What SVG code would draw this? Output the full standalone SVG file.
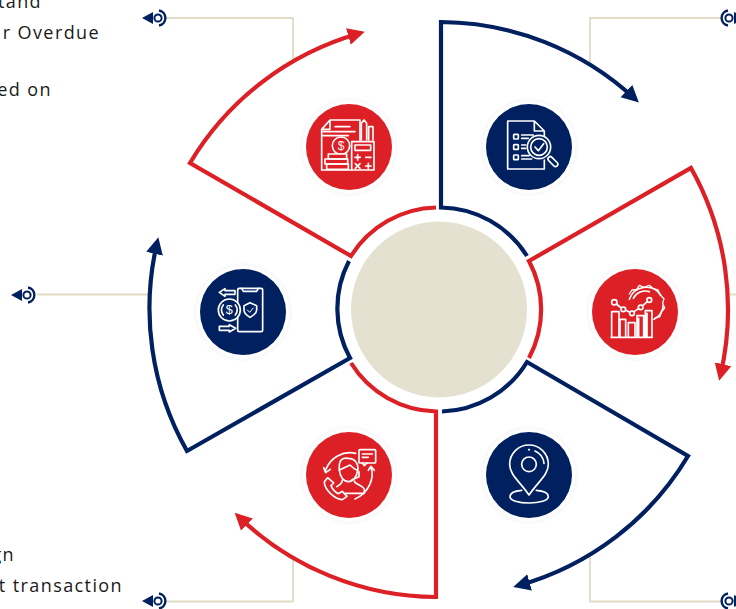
<svg xmlns="http://www.w3.org/2000/svg" width="736" height="609" viewBox="0 0 736 609">
<style>
.t{font-family:"Open Sans","Noto Sans",sans-serif;font-size:18px;letter-spacing:1.4px;fill:#1a1a1a;text-anchor:end}
.g{fill:none;stroke:#e0dcc8;stroke-width:1.8}
.n{fill:none;stroke:#012060;stroke-width:4.2}
.r{fill:none;stroke:#dd1f26;stroke-width:4.2}
.h1{fill:#fafafa}.h2{fill:#fff}
.cn{fill:#012060}.cr{fill:#dd1f26}
.i{fill:none;stroke:#fff;stroke-width:5;stroke-linejoin:round;stroke-linecap:round}
.d{font-family:"Liberation Sans",sans-serif;fill:#fff;text-anchor:middle;font-weight:400}
.b{fill:#012060}.bs{fill:none;stroke:#012060}
</style>
<defs>
<marker id="an" markerUnits="userSpaceOnUse" markerWidth="20" markerHeight="20" viewBox="0 0 20 20" refX="11" refY="10" orient="auto"><path d="M0 1.500L17 10L0 18.500Z" fill="#012060"/></marker>
<marker id="ar" markerUnits="userSpaceOnUse" markerWidth="20" markerHeight="20" viewBox="0 0 20 20" refX="11" refY="10" orient="auto"><path d="M0 1.500L17 10L0 18.500Z" fill="#dd1f26"/></marker>
<g id="bl"><path class="b" d="M-16 0L-5 -6V6Z"/><circle class="bs" stroke-width="2" r="3.600"/><path class="bs" stroke-width="2.400" d="M1 -7.500A7.600 7.600 0 0 1 1 7.500"/></g>
</defs>
<g id="texts">
<text class="t" x="42" y="8">tand</text>
<text class="t" x="100" y="39">r Overdue</text>
<text class="t" x="52" y="96">ed on</text>
<text class="t" x="15" y="561">gn</text>
<text class="t" x="123" y="592">t transaction</text>
</g>
<g id="connectors">
<path class="g" d="M165 18H293V62"/>
<path class="g" d="M722 18H590V64"/>
<path class="g" d="M37 294.500H149"/>
<path class="g" d="M728 294.500H736"/>
<path class="g" d="M165 601.500H293V557"/>
<path class="g" d="M722 601.500H590V555"/>
<use href="#bl" x="158" y="18"/>
<use href="#bl" x="27" y="295"/>
<use href="#bl" x="158" y="601"/>
<use href="#bl" transform="translate(729 18) scale(-1 1)"/>
<use href="#bl" transform="translate(729 601) scale(-1 1)"/>
<path class="n" marker-end="url(#an)" d="M527 256A103 103 0 0 0 441 207.500V22A288 288 0 0 1 634.500 98.500"/>
<path class="r" marker-end="url(#ar)" d="M529 358A103 103 0 0 0 529 261L691 168A289 289 0 0 1 720.500 375"/>
<path class="n" marker-end="url(#an)" d="M442 411.500A103 103 0 0 0 527 362L688 456A288 288 0 0 1 519 585.400"/>
<path class="r" marker-end="url(#ar)" d="M351 363A103 103 0 0 0 436 411.500V597A288 288 0 0 1 239 517"/>
<path class="n" marker-end="url(#an)" d="M349 261A103 103 0 0 0 350 358L187 451A289 289 0 0 1 157 243"/>
<path class="r" marker-end="url(#ar)" d="M436 207.500A103 103 0 0 0 351 256L190 163A288 288 0 0 1 359 33.500"/>
</g>
<g id="hub"><circle cx="439" cy="309.500" r="88" fill="#e4e1d1"/></g>
<g id="node-billing">
<circle class="h1" cx="349" cy="147" r="49"/><circle class="h2" cx="349" cy="147" r="46"/><circle class="cr" cx="349" cy="147" r="43"/>
<g class="i" transform="translate(280 80) scale(.3333)">
<path d="M240 185V120H150L125 148V270H212M150 120V148H125M165 140H210M130 155H225M130 167H205"/>
<circle cx="183" cy="197" r="26" fill="#dd1f26"/>
<rect x="145" y="222" width="55" height="15" fill="#dd1f26"/><rect x="135" y="237" width="68" height="15"/><rect x="140" y="252" width="65" height="16"/>
<rect x="215" y="185" width="67" height="85" fill="#dd1f26"/><rect x="225" y="195" width="47" height="16"/>
<path d="M225 232H241M233 224V240M257 232H273M226 251L240 265M240 251L226 265M257 258H273M265 250V266"/>
<path d="M244 180V130L252 120L260 130V180M266 180V140H279V180"/>
<text class="d" x="183" y="209" font-size="36" stroke="none">$</text>
</g></g>
<g id="node-review">
<circle class="h1" cx="529" cy="147" r="49"/><circle class="h2" cx="529" cy="147" r="46"/><circle class="cn" cx="529" cy="147" r="43"/>
<g class="i" transform="translate(465 85) scale(.3333)">
<path d="M238 152V138L208 108H128V252H238V225M208 108V138H238"/>
<rect x="146" y="148" width="14" height="14" rx="2"/><rect x="146" y="179" width="14" height="14" rx="2"/><rect x="146" y="210" width="14" height="14" rx="2"/>
<path d="M170 150H205M170 160H190M170 180H182M170 190H182M170 212H192M170 222H200"/>
<circle cx="222" cy="186" r="35" fill="#012060"/><circle cx="222" cy="186" r="25"/>
<path d="M210 186L220 197L236 176"/>
<rect x="-7" y="0" width="14" height="36" rx="7" transform="translate(251 217) rotate(-45)"/>
</g></g>
<g id="node-analytics">
<circle class="h1" cx="635" cy="312" r="49"/><circle class="h2" cx="635" cy="312" r="46"/><circle class="cr" cx="635" cy="312" r="43"/>
<g class="i" transform="translate(570 250) scale(.3333)">
<path d="M178 148A53 53 0 0 1 272 135M280 165A53 53 0 0 1 252 208M190 145A40 40 0 0 1 238 125"/>
<path d="M178 132L186 120L200 118L208 106L222 112L238 106L250 116L264 120L270 134L282 146L278 160L284 174L274 186L270 200L256 204" stroke-width="4"/>
<path d="M123 262H247M125 262V185H147V262M150 262V208H167V262M175 262V218H195V262M201 262V197H221V262M226 262V182H246V262M206 205V258M231 190V258"/>
<path d="M139 162L154 174M167 180L179 187M192 185L206 176M218 167L232 155"/>
<circle cx="133" cy="157" r="8"/><circle cx="160" cy="178" r="7"/><circle cx="186" cy="190" r="7"/><circle cx="212" cy="172" r="7"/><circle cx="238" cy="150" r="7"/>
</g></g>
<g id="node-payment">
<circle class="h1" cx="243" cy="312" r="49"/><circle class="h2" cx="243" cy="312" r="46"/><circle class="cn" cx="243" cy="312" r="43"/>
<g class="i" transform="translate(180 250) scale(.3333)">
<rect x="173" y="115" width="75" height="130" rx="5"/>
<path d="M185 115L190 124H230L235 115"/>
<path d="M210 158L230 167V180C230 192 218 197 210 202C202 197 192 192 192 180V167Z"/>
<path d="M202 180L209 187L220 174" stroke-width="3"/>
<circle cx="148" cy="180" r="33" fill="#012060"/><path d="M130 165A23 23 0 0 0 130 195M166 165A23 23 0 0 1 166 195"/>
<path d="M118 127L135 116V122H165V133H135V139Z"/>
<path d="M118 229H148V224L167 235L148 246V241H118Z"/>
<text class="d" x="148" y="193" font-size="38" stroke="none">$</text>
</g></g>
<g id="node-support">
<circle class="h1" cx="349" cy="475" r="49"/><circle class="h2" cx="349" cy="475" r="46"/><circle class="cr" cx="349" cy="475" r="43"/>
<g class="i" transform="translate(285 415) scale(.3333)">
<path d="M212 115A78 78 0 0 0 122 165M116 158L122 173L136 163"/>
<path d="M258 157C270 190 250 235 210 252M250 166L258 154L268 166"/>
<rect x="222" y="104" width="50" height="40" rx="3"/>
<path d="M232 144L238 152L246 144M232 117H262M232 127H250"/>
<path d="M163 165C160 130 175 128 190 130C208 130 222 145 218 165C216 185 205 200 190 200C175 200 165 185 163 165Z"/>
<path d="M163 165C175 160 185 155 195 150C205 160 212 165 218 165M222 170V185L200 195"/>
<path d="M155 215C165 210 172 205 172 195M208 198C210 208 230 210 238 222V235H180"/>
<path d="M128 188L118 200C118 225 150 252 172 254L186 244L172 229L160 236C148 230 142 222 138 212L146 204Z"/>
</g></g>
<g id="node-location">
<circle class="h1" cx="529" cy="475" r="49"/><circle class="h2" cx="529" cy="475" r="46"/><circle class="cn" cx="529" cy="475" r="43"/>
<g class="i" transform="translate(465 415) scale(.3333)">
<path d="M192 240C165 200 134 180 134 148A58 58 0 0 1 250 148C250 180 219 200 192 240Z"/>
<circle cx="192" cy="148" r="22"/>
<path d="M210 108A45 45 0 0 1 237 145M191 104H193"/>
<path d="M170 226C145 228 135 236 135 245C135 256 160 264 192 264C224 264 250 256 250 245C250 236 240 228 214 226"/>
</g></g>
</svg>
